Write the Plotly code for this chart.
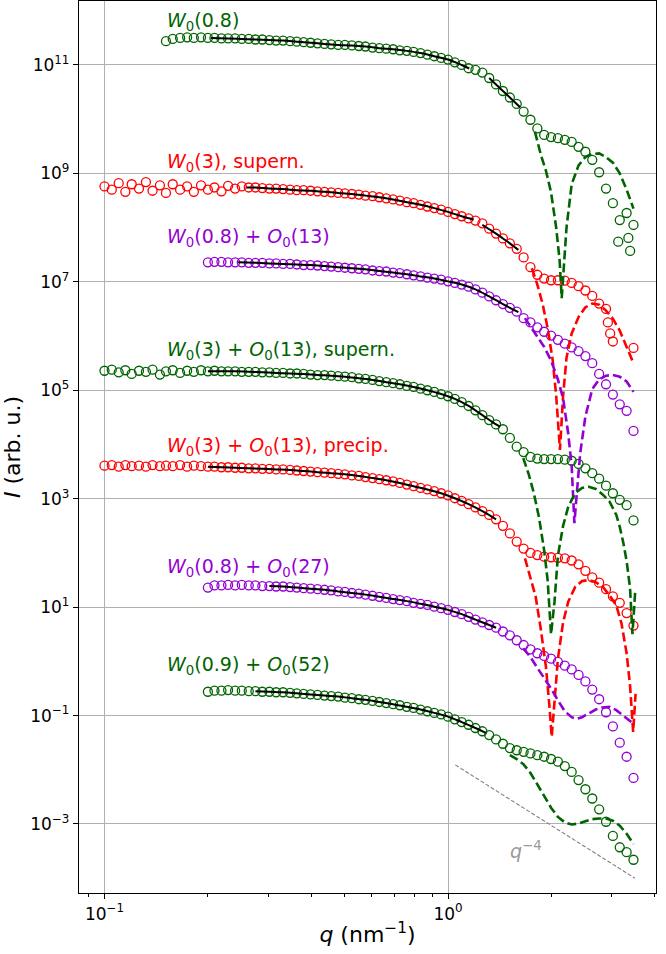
import plotly.graph_objects as go

GREEN = '#006400'
RED = '#ff0000'
VIOLET = '#9400d3'
FONT = 'DejaVu Sans'

# shared q grid of the measured curves (nm^-1)
q = [0.100, 0.105, 0.110, 0.115, 0.120, 0.126, 0.132, 0.138, 0.145, 0.151,
     0.158, 0.166, 0.174, 0.182, 0.191, 0.200, 0.209, 0.219, 0.229, 0.240,
     0.251, 0.263, 0.275, 0.288, 0.302, 0.316, 0.331, 0.347, 0.363, 0.380,
     0.398, 0.417, 0.437, 0.457, 0.479, 0.501, 0.525, 0.550, 0.575, 0.603,
     0.631, 0.661, 0.692, 0.724, 0.759, 0.794, 0.832, 0.871, 0.912, 0.955,
     1.000, 1.047, 1.096, 1.148, 1.202, 1.259, 1.318, 1.380, 1.445, 1.514,
     1.585, 1.660, 1.738, 1.820, 1.905, 1.995, 2.089, 2.188, 2.291, 2.399,
     2.512, 2.630, 2.754, 2.884, 3.020, 3.162, 3.311, 3.467]

# measured intensities (arb. u.), None where a curve has no point
w08 = [None] * 9 + [
    2.75e11, 3.02e11, 3.16e11, 3.24e11, 3.16e11, 3.24e11, 3.16e11, 3.16e11, 3.09e11, 3.09e11,
    3.09e11, 3.02e11, 3.02e11, 2.95e11, 2.95e11, 2.88e11, 2.82e11, 2.82e11, 2.75e11, 2.69e11,
    2.63e11, 2.57e11, 2.51e11, 2.45e11, 2.40e11, 2.34e11, 2.34e11, 2.29e11, 2.24e11, 2.19e11,
    2.09e11, 2.04e11, 2.00e11, 1.95e11, 1.86e11, 1.82e11, 1.74e11, 1.66e11, 1.55e11, 1.45e11,
    1.35e11, 1.26e11, 1.12e11, 1.00e11, 8.71e10, 8.13e10, 7.24e10, 5.75e10, 4.37e10, 3.31e10,
    2.51e10, 1.91e10, 1.38e10, 9.77e9, 6.76e9, 5.13e9, 4.68e9, 4.47e9, 4.17e9, 3.80e9,
    3.09e9, 2.51e9, 1.78e9, 1.05e9, 5.25e8, 2.82e8, 1.38e8, 1.86e8, 1.12e8]
w08_tail_q = [3.13, 3.35, 3.39]
w08_tail = [5.50e7, 6.46e7, 3.72e7]

w3_sup = [
    5.75e8, 5.01e8, 6.61e8, 4.57e8, 6.31e8, 5.25e8, 6.92e8, 4.79e8, 6.03e8, 4.37e8,
    6.31e8, 5.01e8, 5.75e8, 4.57e8, 6.03e8, 5.01e8, 5.50e8, 4.68e8, 5.89e8, 5.25e8,
    5.75e8, 5.50e8, 5.50e8, 5.37e8, 5.25e8, 5.25e8, 5.13e8, 5.01e8, 4.90e8, 4.90e8,
    4.79e8, 4.68e8, 4.57e8, 4.47e8, 4.37e8, 4.27e8, 4.17e8, 4.07e8, 3.89e8, 3.80e8,
    3.63e8, 3.47e8, 3.31e8, 3.16e8, 2.95e8, 2.82e8, 2.63e8, 2.45e8, 2.29e8, 2.14e8,
    1.95e8, 1.78e8, 1.62e8, 1.48e8, 1.35e8, 1.20e8, 9.55e7, 7.76e7, 6.31e7, 5.13e7,
    4.07e7, 2.82e7, 1.86e7, 1.35e7, 1.15e7, 1.07e7, 1.07e7, 1.05e7, 9.55e6, 8.32e6,
    6.92e6, 5.50e6, 3.98e6, 3.16e6, 7.94e5, None, None, 6.03e5]
w3_sup_tail_q = [2.92, 2.965]
w3_sup_tail = [1.78e6, 1.12e6]

w08_o13 = [None] * 15 + [
    2.29e7, 2.34e7, 2.34e7, 2.29e7, 2.29e7, 2.29e7, 2.24e7, 2.24e7, 2.24e7, 2.19e7,
    2.19e7, 2.14e7, 2.14e7, 2.09e7, 2.04e7, 2.04e7, 2.00e7, 1.95e7, 1.91e7, 1.86e7,
    1.82e7, 1.78e7, 1.74e7, 1.70e7, 1.62e7, 1.58e7, 1.55e7, 1.48e7, 1.45e7, 1.38e7,
    1.32e7, 1.26e7, 1.20e7, 1.15e7, 1.10e7, 1.02e7, 9.55e6, 8.91e6, 8.13e6, 7.24e6,
    6.31e6, 5.37e6, 4.57e6, 3.89e6, 3.31e6, 2.82e6, 2.14e6, 1.78e6, 1.45e6, 1.20e6,
    1.02e6, 8.51e5, 7.24e5, 6.17e5, 5.25e5, 4.27e5, 3.16e5, 2.00e5, 1.29e5, 8.32e4,
    5.50e4, 4.17e4, 1.78e4]

w3_o13_sup = [
    2.29e5, 2.40e5, 2.14e5, 2.34e5, 2.00e5, 2.29e5, 2.19e5, 2.40e5, 1.95e5, 2.24e5,
    2.34e5, 2.09e5, 2.29e5, 2.19e5, 2.34e5, 2.24e5, 2.29e5, 2.24e5, 2.24e5, 2.24e5,
    2.19e5, 2.19e5, 2.19e5, 2.14e5, 2.14e5, 2.09e5, 2.09e5, 2.04e5, 2.04e5, 2.00e5,
    1.95e5, 1.91e5, 1.91e5, 1.86e5, 1.82e5, 1.78e5, 1.74e5, 1.66e5, 1.62e5, 1.55e5,
    1.48e5, 1.41e5, 1.35e5, 1.29e5, 1.20e5, 1.15e5, 1.07e5, 1.00e5, 9.33e4, 8.51e4,
    7.76e4, 6.92e4, 6.03e4, 5.13e4, 4.27e4, 3.47e4, 2.82e4, 2.34e4, 1.91e4, 1.32e4,
    9.12e3, 7.24e3, 5.89e3, 5.50e3, 5.37e3, 5.37e3, 5.37e3, 5.25e3, 5.01e3, 4.37e3,
    3.63e3, 2.95e3, 2.34e3, 1.74e3, 1.26e3, 9.55e2, 7.59e2, 3.98e2]

w3_o13_pre = [
    4.07e3, 4.17e3, 3.89e3, 4.17e3, 3.98e3, 4.07e3, 3.89e3, 4.17e3, 3.98e3, 4.07e3,
    3.98e3, 4.17e3, 3.89e3, 4.07e3, 3.98e3, 3.89e3, 3.89e3, 3.80e3, 3.80e3, 3.72e3,
    3.72e3, 3.63e3, 3.63e3, 3.55e3, 3.55e3, 3.47e3, 3.47e3, 3.39e3, 3.31e3, 3.24e3,
    3.16e3, 3.09e3, 3.02e3, 2.95e3, 2.88e3, 2.82e3, 2.69e3, 2.63e3, 2.51e3, 2.40e3,
    2.29e3, 2.19e3, 2.09e3, 1.95e3, 1.82e3, 1.70e3, 1.58e3, 1.48e3, 1.38e3, 1.26e3,
    1.15e3, 1.02e3, 9.12e2, 7.94e2, 6.92e2, 5.89e2, 5.01e2, 4.17e2, 3.16e2, 2.29e2,
    1.62e2, 1.20e2, 1.00e2, 91.2, 85.1, 83.2, 81.3, 79.4, 72.4, 61.7,
    46.8, 35.5, 28.2, 21.4, 15.8, 12.0, 7.76, 4.57]

w08_o27 = [None] * 15 + [
    22.9, 25.1, 25.1, 25.7, 25.1, 25.7, 25.1, 25.1, 24.5, 24.5,
    24.0, 24.0, 23.4, 22.9, 22.4, 21.9, 21.4, 20.9, 20.4, 19.5,
    19.1, 18.2, 17.8, 17.0, 16.2, 15.5, 14.8, 14.1, 13.5, 12.9,
    12.0, 11.5, 11.0, 10.2, 9.55, 8.91, 8.13, 7.41, 6.61, 5.89,
    5.25, 4.68, 4.17, 3.55, 3.02, 2.45, 2.00, 1.66, 1.41, 1.26,
    1.12, 0.977, 0.832, 0.708, 0.562, 0.427, 0.302, 0.200, 0.115, 0.0631,
    0.0316, 0.0174, 0.00708]

w09_o52 = [None] * 15 + [
    0.275, 0.288, 0.288, 0.295, 0.288, 0.288, 0.282, 0.282, 0.275, 0.275,
    0.269, 0.269, 0.263, 0.257, 0.251, 0.245, 0.240, 0.234, 0.229, 0.224,
    0.214, 0.209, 0.200, 0.195, 0.186, 0.178, 0.170, 0.162, 0.155, 0.145,
    0.138, 0.129, 0.120, 0.112, 0.105, 0.0955, 0.0851, 0.0759, 0.0676, 0.0589,
    0.0513, 0.0437, 0.0363, 0.0302, 0.0251, 0.0229, 0.0214, 0.0200, 0.0186, 0.0174,
    0.0158, 0.0141, 0.0117, 0.00912, 0.00646, 0.00437, 0.00295, 0.00186, 0.00110, 0.000603,
    0.000372, 0.000302, 0.000219]

# fitted curves (black)
fit_w08_q = [0.204, 0.229, 0.251, 0.275, 0.302, 0.331, 0.363, 0.398, 0.437, 0.479,
             0.525, 0.575, 0.631, 0.692, 0.759, 0.832, 0.912, 1.000, 1.096, 1.153]
fit_w08 = [3.16e11, 3.09e11, 3.02e11, 2.95e11, 2.88e11, 2.82e11, 2.69e11, 2.57e11, 2.45e11, 2.34e11,
           2.29e11, 2.19e11, 2.04e11, 1.95e11, 1.82e11, 1.66e11, 1.45e11, 1.26e11, 1.00e11, 8.60e10]
fit_w08_hi_q = [1.318, 1.380, 1.445, 1.514, 1.585, 1.622]
fit_w08_hi = [5.75e10, 4.37e10, 3.31e10, 2.51e10, 1.91e10, 1.66e10]

fit_w3_sup_q = [0.259, 0.275, 0.302, 0.331, 0.363, 0.398, 0.437, 0.479, 0.525,
                0.575, 0.631, 0.692, 0.759, 0.832, 0.912, 1.000, 1.096, 1.186]
fit_w3_sup = [5.50e8, 5.50e8, 5.25e8, 5.13e8, 4.90e8, 4.79e8, 4.57e8, 4.37e8, 4.17e8,
              3.89e8, 3.63e8, 3.31e8, 2.95e8, 2.63e8, 2.29e8, 1.95e8, 1.62e8, 1.41e8]
fit_w3_sup_hi_q = [1.259, 1.318, 1.380, 1.445, 1.514, 1.603]
fit_w3_sup_hi = [1.12e8, 9.33e7, 7.76e7, 6.31e7, 5.13e7, 3.89e7]

fit_w08_o13_q = [0.245, 0.275, 0.302, 0.331, 0.363, 0.398, 0.437, 0.479, 0.525, 0.575, 0.631,
                 0.692, 0.759, 0.832, 0.912, 1.000, 1.096, 1.202, 1.318, 1.445, 1.603]
fit_w08_o13 = [2.29e7, 2.24e7, 2.19e7, 2.14e7, 2.09e7, 2.04e7, 1.95e7, 1.86e7, 1.78e7, 1.70e7, 1.58e7,
               1.48e7, 1.38e7, 1.26e7, 1.15e7, 1.02e7, 8.91e6, 7.24e6, 5.37e6, 3.89e6, 2.75e6]

fit_w3_q = [0.200, 0.219, 0.240, 0.263, 0.288, 0.316, 0.347, 0.380, 0.417, 0.457, 0.501, 0.550,
            0.603, 0.661, 0.724, 0.794, 0.871, 0.955, 1.047, 1.148, 1.259, 1.380, 1.416]
fit_w3_o13_sup = [2.24e5, 2.24e5, 2.24e5, 2.19e5, 2.14e5, 2.09e5, 2.04e5, 2.00e5, 1.91e5, 1.86e5, 1.78e5, 1.66e5,
                  1.55e5, 1.41e5, 1.29e5, 1.15e5, 1.00e5, 8.51e4, 6.92e4, 5.13e4, 3.47e4, 2.34e4, 2.14e4]
fit_w3_o13_pre = [3.89e3, 3.80e3, 3.72e3, 3.63e3, 3.55e3, 3.47e3, 3.39e3, 3.24e3, 3.09e3, 2.95e3, 2.82e3, 2.63e3,
                  2.40e3, 2.19e3, 1.95e3, 1.70e3, 1.48e3, 1.26e3, 1.02e3, 7.94e2, 5.89e2, 4.17e2]

fit_w08_o27_q = [0.302, 0.331, 0.363, 0.398, 0.437, 0.479, 0.525, 0.575, 0.631,
                 0.692, 0.759, 0.832, 0.912, 1.000, 1.096, 1.202, 1.318, 1.380]
fit_w08_o27 = [24.5, 24.0, 22.9, 21.9, 20.9, 19.5, 18.2, 17.0, 15.5,
               14.1, 12.9, 11.5, 10.2, 8.91, 7.41, 5.89, 4.68, 4.17]

fit_w09_o52_q = [0.275, 0.302, 0.331, 0.363, 0.398, 0.437, 0.479, 0.525, 0.575,
                 0.631, 0.692, 0.759, 0.832, 0.912, 1.000, 1.096, 1.202, 1.288]
fit_w09_o52 = [0.282, 0.275, 0.269, 0.257, 0.245, 0.234, 0.224, 0.209, 0.195,
               0.178, 0.162, 0.145, 0.129, 0.112, 0.0955, 0.0759, 0.0589, 0.0479]

# model curves (dashed)
mod_w08_q = [1.791, 1.862, 1.928, 1.995, 2.065, 2.113, 2.143, 2.173, 2.213, 2.291,
             2.399, 2.512, 2.630, 2.754, 2.884, 3.020, 3.162, 3.311, 3.467]
mod_w08 = [5.89e9, 2.24e9, 1.12e9, 4.47e8, 1.00e8, 2.51e7, 5.01e6, 2.00e7, 1.00e8, 6.31e8,
           1.41e9, 2.00e9, 2.29e9, 2.34e9, 2.00e9, 1.58e9, 1.00e9, 5.01e8, 2.24e8]

mod_w3_sup_q = [1.754, 1.820, 1.884, 1.950, 2.018, 2.065, 2.118, 2.163, 2.213, 2.291,
                2.399, 2.512, 2.630, 2.754, 2.884, 3.020, 3.162, 3.311, 3.467]
mod_w3_sup = [1.78e7, 8.91e6, 3.98e6, 1.41e6, 3.55e5, 7.94e4, 7.94e3, 7.94e4, 3.98e5, 1.12e6,
              2.24e6, 3.39e6, 3.98e6, 3.80e6, 2.95e6, 2.09e6, 1.26e6, 6.31e5, 3.16e5]

mod_w08_o13_q = [1.675, 1.738, 1.820, 1.905, 1.995, 2.089, 2.163, 2.239, 2.291, 2.333,
                 2.371, 2.427, 2.512, 2.630, 2.754, 2.884, 3.020, 3.162, 3.311, 3.467]
mod_w08_o13 = [2.14e6, 1.51e6, 9.33e5, 6.31e5, 3.55e5, 1.58e5, 7.08e4, 1.58e4, 3.98e3, 3.55e2,
               1.26e3, 7.08e3, 3.31e4, 1.05e5, 1.58e5, 1.86e5, 1.91e5, 1.78e5, 1.45e5, 9.33e4]

mod_w3_o13_sup_q = [1.656, 1.718, 1.778, 1.841, 1.905, 1.950, 1.995, 2.042, 2.089, 2.163, 2.239, 2.344,
                    2.455, 2.570, 2.692, 2.818, 2.951, 3.090, 3.162, 3.236, 3.311, 3.388, 3.443, 3.508]
mod_w3_o13_sup = [5.62e3, 2.82e3, 1.26e3, 4.47e2, 1.12e2, 31.6, 3.16, 12.6, 89.1, 316, 708, 1.26e3,
                  1.58e3, 1.66e3, 1.51e3, 1.20e3, 891, 501, 302, 158, 70.8, 22.4, 3.16, 20.0]

mod_w3_o13_pre_q = [1.675, 1.738, 1.799, 1.862, 1.928, 1.972, 2.004, 2.042, 2.089, 2.163, 2.239, 2.344,
                    2.455, 2.570, 2.692, 2.818, 2.951, 3.090, 3.199, 3.311, 3.388, 3.459, 3.516]
mod_w3_o13_pre = [79.4, 35.5, 15.8, 3.98, 0.794, 0.158, 0.0407, 0.178, 1.12, 5.25, 12.6, 23.4,
                  30.2, 31.6, 28.8, 24.0, 16.6, 10.7, 5.01, 1.41, 0.355, 0.0501, 0.251]

mod_w08_o27_q = [1.656, 1.738, 1.820, 1.905, 1.995, 2.089, 2.188, 2.291, 2.371,
                 2.455, 2.570, 2.692, 2.818, 2.951, 3.090, 3.236, 3.388, 3.467]
mod_w08_o27 = [1.74, 1.20, 0.759, 0.501, 0.316, 0.191, 0.120, 0.0933, 0.0871,
               0.0933, 0.110, 0.129, 0.141, 0.145, 0.126, 0.100, 0.0794, 0.0708]

mod_w09_o52_q = [1.514, 1.585, 1.660, 1.738, 1.820, 1.905, 1.995, 2.089, 2.188, 2.291,
                 2.399, 2.512, 2.630, 2.754, 2.884, 3.020, 3.162, 3.311, 3.467]
mod_w09_o52 = [0.0186, 0.0158, 0.0126, 0.00871, 0.00537, 0.00331, 0.00200, 0.00135, 0.00107, 0.000977,
               0.00102, 0.00112, 0.00123, 0.00126, 0.00126, 0.00115, 0.000933, 0.000661, 0.000427]

# q^-4 guide
guide_q = [1.05, 3.5]
guide_I = [1.23e-2, 1.0e-4]

x_tickvals = [0.1, 1]
x_ticktext = ['10<sup>−1</sup>', '10<sup>0</sup>']
x_minor = [0.09, 0.2, 0.3, 0.4, 0.5, 0.6, 0.7, 0.8, 0.9, 2, 3, 4]
y_tickvals = [1e-3, 1e-1, 1e1, 1e3, 1e5, 1e7, 1e9, 1e11]
y_ticktext = ['10<sup>−3</sup>', '10<sup>−1</sup>', '10<sup>1</sup>', '10<sup>3</sup>',
              '10<sup>5</sup>', '10<sup>7</sup>', '10<sup>9</sup>', '10<sup>11</sup>']

W = '<i>W</i><sub>0</sub>'
O = '<i>O</i><sub>0</sub>'
curves = [
    (W + '(0.8)', GREEN, w08, fit_w08_q, fit_w08, mod_w08_q, mod_w08, 11.81),
    (W + '(3), supern.', RED, w3_sup, fit_w3_sup_q, fit_w3_sup, mod_w3_sup_q, mod_w3_sup, 9.21),
    (W + '(0.8) + ' + O + '(13)', VIOLET, w08_o13, fit_w08_o13_q, fit_w08_o13,
     mod_w08_o13_q, mod_w08_o13, 7.81),
    (W + '(3) + ' + O + '(13), supern.', GREEN, w3_o13_sup, fit_w3_q, fit_w3_o13_sup,
     mod_w3_o13_sup_q, mod_w3_o13_sup, 5.74),
    (W + '(3) + ' + O + '(13), precip.', RED, w3_o13_pre, fit_w3_q[:-1], fit_w3_o13_pre,
     mod_w3_o13_pre_q, mod_w3_o13_pre, 3.96),
    (W + '(0.8) + ' + O + '(27)', VIOLET, w08_o27, fit_w08_o27_q, fit_w08_o27,
     mod_w08_o27_q, mod_w08_o27, 1.74),
    (W + '(0.9) + ' + O + '(52)', GREEN, w09_o52, fit_w09_o52_q, fit_w09_o52,
     mod_w09_o52_q, mod_w09_o52, -0.07),
]


def circles(x, y, color):
    return go.Scatter(x=x, y=y, mode='markers',
                      marker=dict(symbol='circle-open', size=9, color=color,
                                  line=dict(width=1.3, color=color)))


fig = go.Figure()

for label, color, data, fq, fy, mq, my, ylab in curves:
    fig.add_trace(circles(q, data, color))
fig.add_trace(circles(w08_tail_q, w08_tail, GREEN))
fig.add_trace(circles(w3_sup_tail_q, w3_sup_tail, RED))

fits = [(c[3], c[4]) for c in curves] + [(fit_w08_hi_q, fit_w08_hi), (fit_w3_sup_hi_q, fit_w3_sup_hi)]
for fq, fy in fits:
    fig.add_trace(go.Scatter(x=fq, y=fy, mode='lines', line=dict(color='black', width=2, shape='spline')))

for label, color, data, fq, fy, mq, my, ylab in curves:
    fig.add_trace(go.Scatter(x=mq, y=my, mode='lines',
                             line=dict(color=color, width=2.6, dash='9px,4px')))
    fig.add_annotation(x=-0.823, y=ylab, xref='x', yref='y', text=label, showarrow=False,
                       xanchor='left', yanchor='middle', font=dict(size=19, color=color, family=FONT))

fig.add_trace(go.Scatter(x=guide_q, y=guide_I, mode='lines',
                         line=dict(color='grey', width=1.1, dash='4px,2px')))
fig.add_annotation(x=0.2275, y=-3.48, text='<i>q</i><sup>−4</sup>', showarrow=False,
                   xanchor='center', yanchor='middle', font=dict(size=19, color='#999999', family=FONT))

axis_common = dict(type='log', showline=True, linecolor='black', linewidth=1.3, mirror=True,
                   ticks='outside', ticklen=5, tickwidth=1.2, tickcolor='black',
                   showgrid=True, gridcolor='#b0b0b0', gridwidth=1, zeroline=False,
                   tickfont=dict(size=17, color='black', family=FONT))

fig.update_xaxes(range=[-1.0742, 0.6055], tickvals=x_tickvals, ticktext=x_ticktext,
                 minor=dict(tickvals=x_minor, ticks='outside', ticklen=3, tickwidth=1,
                            tickcolor='black', showgrid=False),
                 title=dict(text='<i>q</i> (nm<sup>−1</sup>)', font=dict(size=22, family=FONT), standoff=4),
                 **axis_common)
fig.update_yaxes(range=[-4.273, 12.18], tickvals=y_tickvals, ticktext=y_ticktext,
                 title=dict(text='<i>I</i> (arb. u.)', font=dict(size=22, family=FONT), standoff=6),
                 **axis_common)

fig.update_layout(
    width=666,
    height=954,
    margin=dict(l=79, r=10, t=1, b=61),
    showlegend=False,
    paper_bgcolor='white',
    plot_bgcolor='white',
    font=dict(family=FONT, color='black'),
)

# the page's default body margin would shift the figure by 8 px
fig.write_html('out.html', config={'displayModeBar': False},
               post_script="document.body.style.margin='0px';")
